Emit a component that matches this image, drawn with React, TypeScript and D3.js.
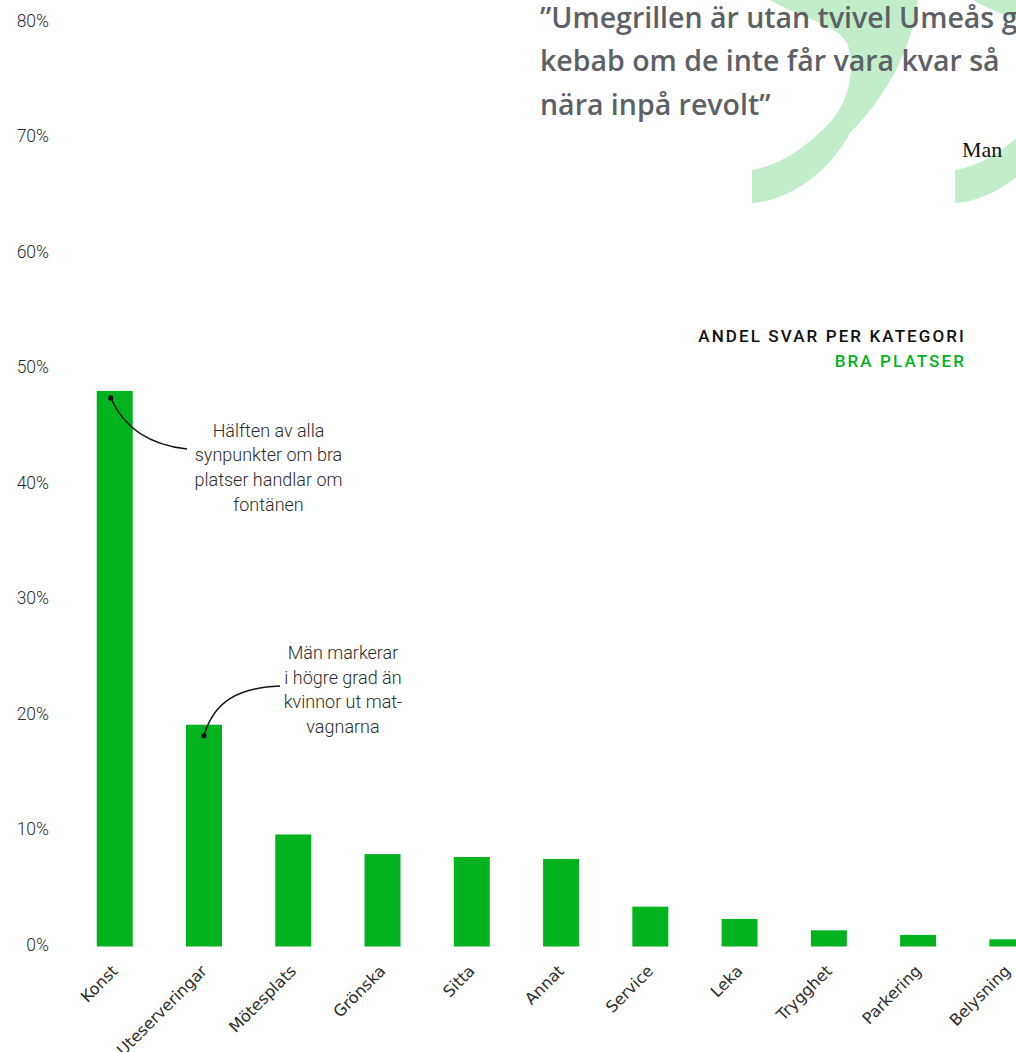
import React from "react";
import * as d3 from "d3";

// andel svar per kategori, bra platser
const categories = ["Konst", "Uteserveringar", "Mötesplats", "Grönska", "Sitta", "Annat", "Service", "Leka", "Trygghet", "Parkering", "Belysning"];
const shares = [0.481, 0.192, 0.097, 0.08, 0.0775, 0.0758, 0.0345, 0.0238, 0.014, 0.01, 0.0062];
const yTicks = [0, 0.1, 0.2, 0.3, 0.4, 0.5, 0.6, 0.7, 0.8];

const quoteLines = ["”Umegrillen är utan tvivel Umeås g", "kebab om de inte får vara kvar så", "nära inpå revolt”"];
const quoteAuthor = "Man";
const titleLine = "ANDEL SVAR PER KATEGORI";
const subtitleLine = "BRA PLATSER";

const notes = [
  { cat: "Konst", lines: ["Hälften av alla", "synpunkter om bra", "platser handlar om", "fontänen"] },
  { cat: "Uteserveringar", lines: ["Män markerar", "i högre grad än", "kvinnor ut mat-", "vagnarna"] },
];

const W = 1016;
const H = 1052;
const green = "#02b21e";
const paleGreen = "#c2edca";

// big closing-quote glyph drawn as a comma shape
const commaPath = (dx: number) => {
  const p = d3.path();
  p.moveTo(770 + dx, 0);
  p.bezierCurveTo(800 + dx, 18, 840 + dx, 25, 848 + dx, 45);
  p.bezierCurveTo(856 + dx, 75, 848 + dx, 110, 817 + dx, 135);
  p.bezierCurveTo(800 + dx, 150, 780 + dx, 165, 752 + dx, 170);
  p.lineTo(752 + dx, 203);
  p.bezierCurveTo(780 + dx, 202, 825 + dx, 180, 850 + dx, 133);
  p.bezierCurveTo(885 + dx, 98, 912 + dx, 50, 918 + dx, 0);
  p.closePath();
  return p.toString();
};

export default function App() {
  const x = d3.scaleBand<string>()
    .domain(categories)
    .range([70.1, 1052])
    .paddingInner(0.597)
    .paddingOuter(0.2985);
  const y = d3.scaleLinear().domain([0, 0.8]).range([946.5, 22.5]);

  const noteText = { fontFamily: "Roboto", fontWeight: 300, fontSize: 18, fill: "#2b2b2b" };

  // annotation anchors
  const k0 = x("Konst")! - 4 + x.bandwidth() / 2;
  const u0 = x("Uteserveringar")! + x.bandwidth() / 2;
  const konstDot: [number, number] = [k0, y(shares[0]) + 7];
  const uteDot: [number, number] = [u0, y(shares[1]) + 11];

  return (
    <svg width={W} height={H} style={{ position: "absolute", left: 0, top: 0, background: "#fff" }}>
      <path d={commaPath(0)} fill={paleGreen} />
      <path d={commaPath(203)} fill={paleGreen} />

      <g fontFamily="'Open Sans'" fontWeight={600} fontSize={28.5} fill="#5d6166">
        {quoteLines.map((t, i) => (
          <text key={i} x={540} y={28 + i * 43.3}>{t}</text>
        ))}
      </g>
      <text x={962} y={157} fontFamily="'Liberation Serif'" fontSize={22} fill="#111">{quoteAuthor}</text>

      <text x={966} y={342} textAnchor="end" fontFamily="Roboto" fontWeight={500} fontSize={17} letterSpacing={2.1} fill="#111">{titleLine}</text>
      <text x={966} y={366.5} textAnchor="end" fontFamily="Roboto" fontWeight={500} fontSize={17} letterSpacing={2.1} fill={green}>{subtitleLine}</text>

      <g>
        {yTicks.map((v) => (
          <text key={v} x={49} y={y(v) - 2} dy="0.35em" textAnchor="end" fontFamily="Roboto" fontWeight={300} fontSize={17.5} fill="#2b2b2b">
            {d3.format(".0%")(v)}
          </text>
        ))}
      </g>

      <g>
        {categories.map((c, i) => (
          <rect key={c} x={x(c)} y={y(shares[i])} width={x.bandwidth()} height={y(0) - y(shares[i])} fill={green} />
        ))}
      </g>

      <g fontFamily="'DejaVu Sans'" fontSize={16} fill="#2b2b2b">
        {categories.map((c) => (
          <text key={c} textAnchor="end" transform={`translate(${x(c)! + x.bandwidth() / 2 + 4},${972}) rotate(-45)`}>{c}</text>
        ))}
      </g>

      {/* annotations */}
      <path d={`M${konstDot[0]},${konstDot[1]} C${konstDot[0] + 14},${konstDot[1] + 32} ${konstDot[0] + 40},${konstDot[1] + 47} 187,449`} fill="none" stroke="#111" strokeWidth={1.5} />
      <circle cx={konstDot[0]} cy={konstDot[1]} r={2.6} fill="#111" />
      <g {...noteText} textAnchor="middle">
        {notes[0].lines.map((t, i) => (
          <text key={i} x={268.5} y={436.5 + i * 24.8}>{t}</text>
        ))}
      </g>

      <path d={`M${uteDot[0]},${uteDot[1]} C${uteDot[0] + 10},${uteDot[1] - 35} ${uteDot[0] + 35},${uteDot[1] - 48} 280,686`} fill="none" stroke="#111" strokeWidth={1.5} />
      <circle cx={uteDot[0]} cy={uteDot[1]} r={2.6} fill="#111" />
      <g {...noteText} textAnchor="middle">
        {notes[1].lines.map((t, i) => (
          <text key={i} x={343} y={659 + i * 24.5}>{t}</text>
        ))}
      </g>
    </svg>
  );
}
